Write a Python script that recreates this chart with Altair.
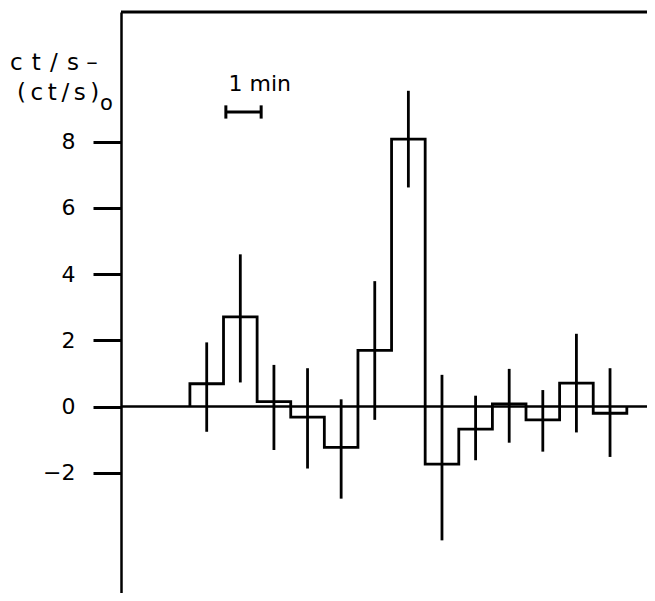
import altair as alt
import pandas as pd

# bin index (1-min bins), measured values and error-bar limits
bins = list(range(13))
values = [0.69, 2.71, 0.15, -0.32, -1.23, 1.70, 8.08, -1.74, -0.68, 0.08, -0.40, 0.71, -0.20]
err_lo = [-0.76, 0.73, -1.31, -1.87, -2.78, -0.40, 6.62, -4.04, -1.62, -1.09, -1.36, -0.78, -1.52]
err_hi = [1.94, 4.60, 1.26, 1.16, 0.22, 3.79, 9.54, 0.96, 0.33, 1.14, 0.50, 2.20, 1.16]
y_ticks = [-2, 0, 2, 4, 6, 8]
scale_bar = [1.07, 2.12]  # "1 min" bar, in minutes
x_domain = [-2.05, 13.6]
y_domain = [-5.63, 11.92]

FONT = "DejaVu Sans"
FS = 22
TS = "\u2009"  # thin space for the wide-set axis title

# step outline points
step_x = [bins[0]] + bins + [bins[-1] + 1]
step_y = [0] + values + [0]
step_df = pd.DataFrame({"t": step_x, "v": step_y, "o": list(range(len(step_x)))})

err_df = pd.DataFrame({"t": [b + 0.5 for b in bins], "lo": err_lo, "hi": err_hi})

xs = alt.Scale(domain=x_domain, nice=False, zero=False)
ys = alt.Scale(domain=y_domain, nice=False, zero=False)

yaxis = alt.Axis(
    values=y_ticks, grid=False, domain=True, domainWidth=2.5, domainColor="black",
    ticks=True, tickSize=28, tickWidth=3, tickColor="black",
    labelFont=FONT, labelFontSize=FS, labelColor="black", labelPadding=18,
    title=None,
)

step = alt.Chart(step_df).mark_line(
    interpolate="step-after", color="black", strokeWidth=2.8, clip=True
).encode(x=alt.X("t:Q", scale=xs, axis=None), y=alt.Y("v:Q", scale=ys, axis=yaxis), order="o:Q")

zero = alt.Chart(pd.DataFrame({"t": [x_domain[0]], "t2": [x_domain[1]], "v": [0]})).mark_rule(
    color="black", strokeWidth=2.5
).encode(x=alt.X("t:Q", scale=xs, axis=None), x2="t2:Q", y=alt.Y("v:Q", scale=ys))

errs = alt.Chart(err_df).mark_rule(color="black", strokeWidth=2.8).encode(
    x=alt.X("t:Q", scale=xs, axis=None), y=alt.Y("lo:Q", scale=ys), y2="hi:Q"
)

sb_df = pd.DataFrame({"a": [scale_bar[0]], "b": [scale_bar[1]], "y": [8.9]})
sb = alt.Chart(sb_df).mark_rule(color="black", strokeWidth=3).encode(
    x=alt.X("a:Q", scale=xs, axis=None), x2="b:Q", y=alt.Y("y:Q", scale=ys)
)
sb_ends_df = pd.DataFrame({"t": scale_bar, "lo": [8.7, 8.7], "hi": [9.1, 9.1]})
sb_ends = alt.Chart(sb_ends_df).mark_rule(color="black", strokeWidth=3).encode(
    x=alt.X("t:Q", scale=xs, axis=None), y=alt.Y("lo:Q", scale=ys), y2="hi:Q"
)
sb_text = alt.Chart(pd.DataFrame({"t": [scale_bar[0] + 0.08], "y": [9.75], "s": ["1 min"]})).mark_text(
    align="left", baseline="middle", font=FONT, fontSize=FS, color="black"
).encode(x=alt.X("t:Q", scale=xs, axis=None), y=alt.Y("y:Q", scale=ys), text="s:N")

top = alt.Chart(pd.DataFrame({"t": [x_domain[0]], "t2": [x_domain[1]], "v": [y_domain[1]]})).mark_rule(
    color="black", strokeWidth=3
).encode(x=alt.X("t:Q", scale=xs, axis=None), x2="t2:Q", y=alt.Y("v:Q", scale=ys))

# y-axis title (two lines with subscript), placed in the left margin
line1 = (TS + TS).join("ct/s") + " –"
line2 = TS.join("(ct/s)")
t1 = alt.Chart(pd.DataFrame({"s": [line1]})).mark_text(
    align="left", baseline="alphabetic", font=FONT, fontSize=23, color="black"
).encode(x=alt.value(-111), y=alt.value(58), text="s:N")
t2 = alt.Chart(pd.DataFrame({"s": [line2]})).mark_text(
    align="left", baseline="alphabetic", font=FONT, fontSize=23, color="black"
).encode(x=alt.value(-104), y=alt.value(88), text="s:N")
t3 = alt.Chart(pd.DataFrame({"s": ["o"]})).mark_text(
    align="left", baseline="alphabetic", font=FONT, fontSize=21, color="black"
).encode(x=alt.value(-21), y=alt.value(98), text="s:N")

chart = alt.layer(zero, step, errs, sb, sb_ends, sb_text, top, t1, t2, t3).properties(
    width=526, height=581,
    autosize=alt.AutoSizeParams(type="none"),
    padding={"left": 113, "top": 4, "right": 0, "bottom": 0},
).configure_view(stroke=None).configure(background="white")

chart.save("out.html", embed_options={"renderer": "svg", "actions": False})
